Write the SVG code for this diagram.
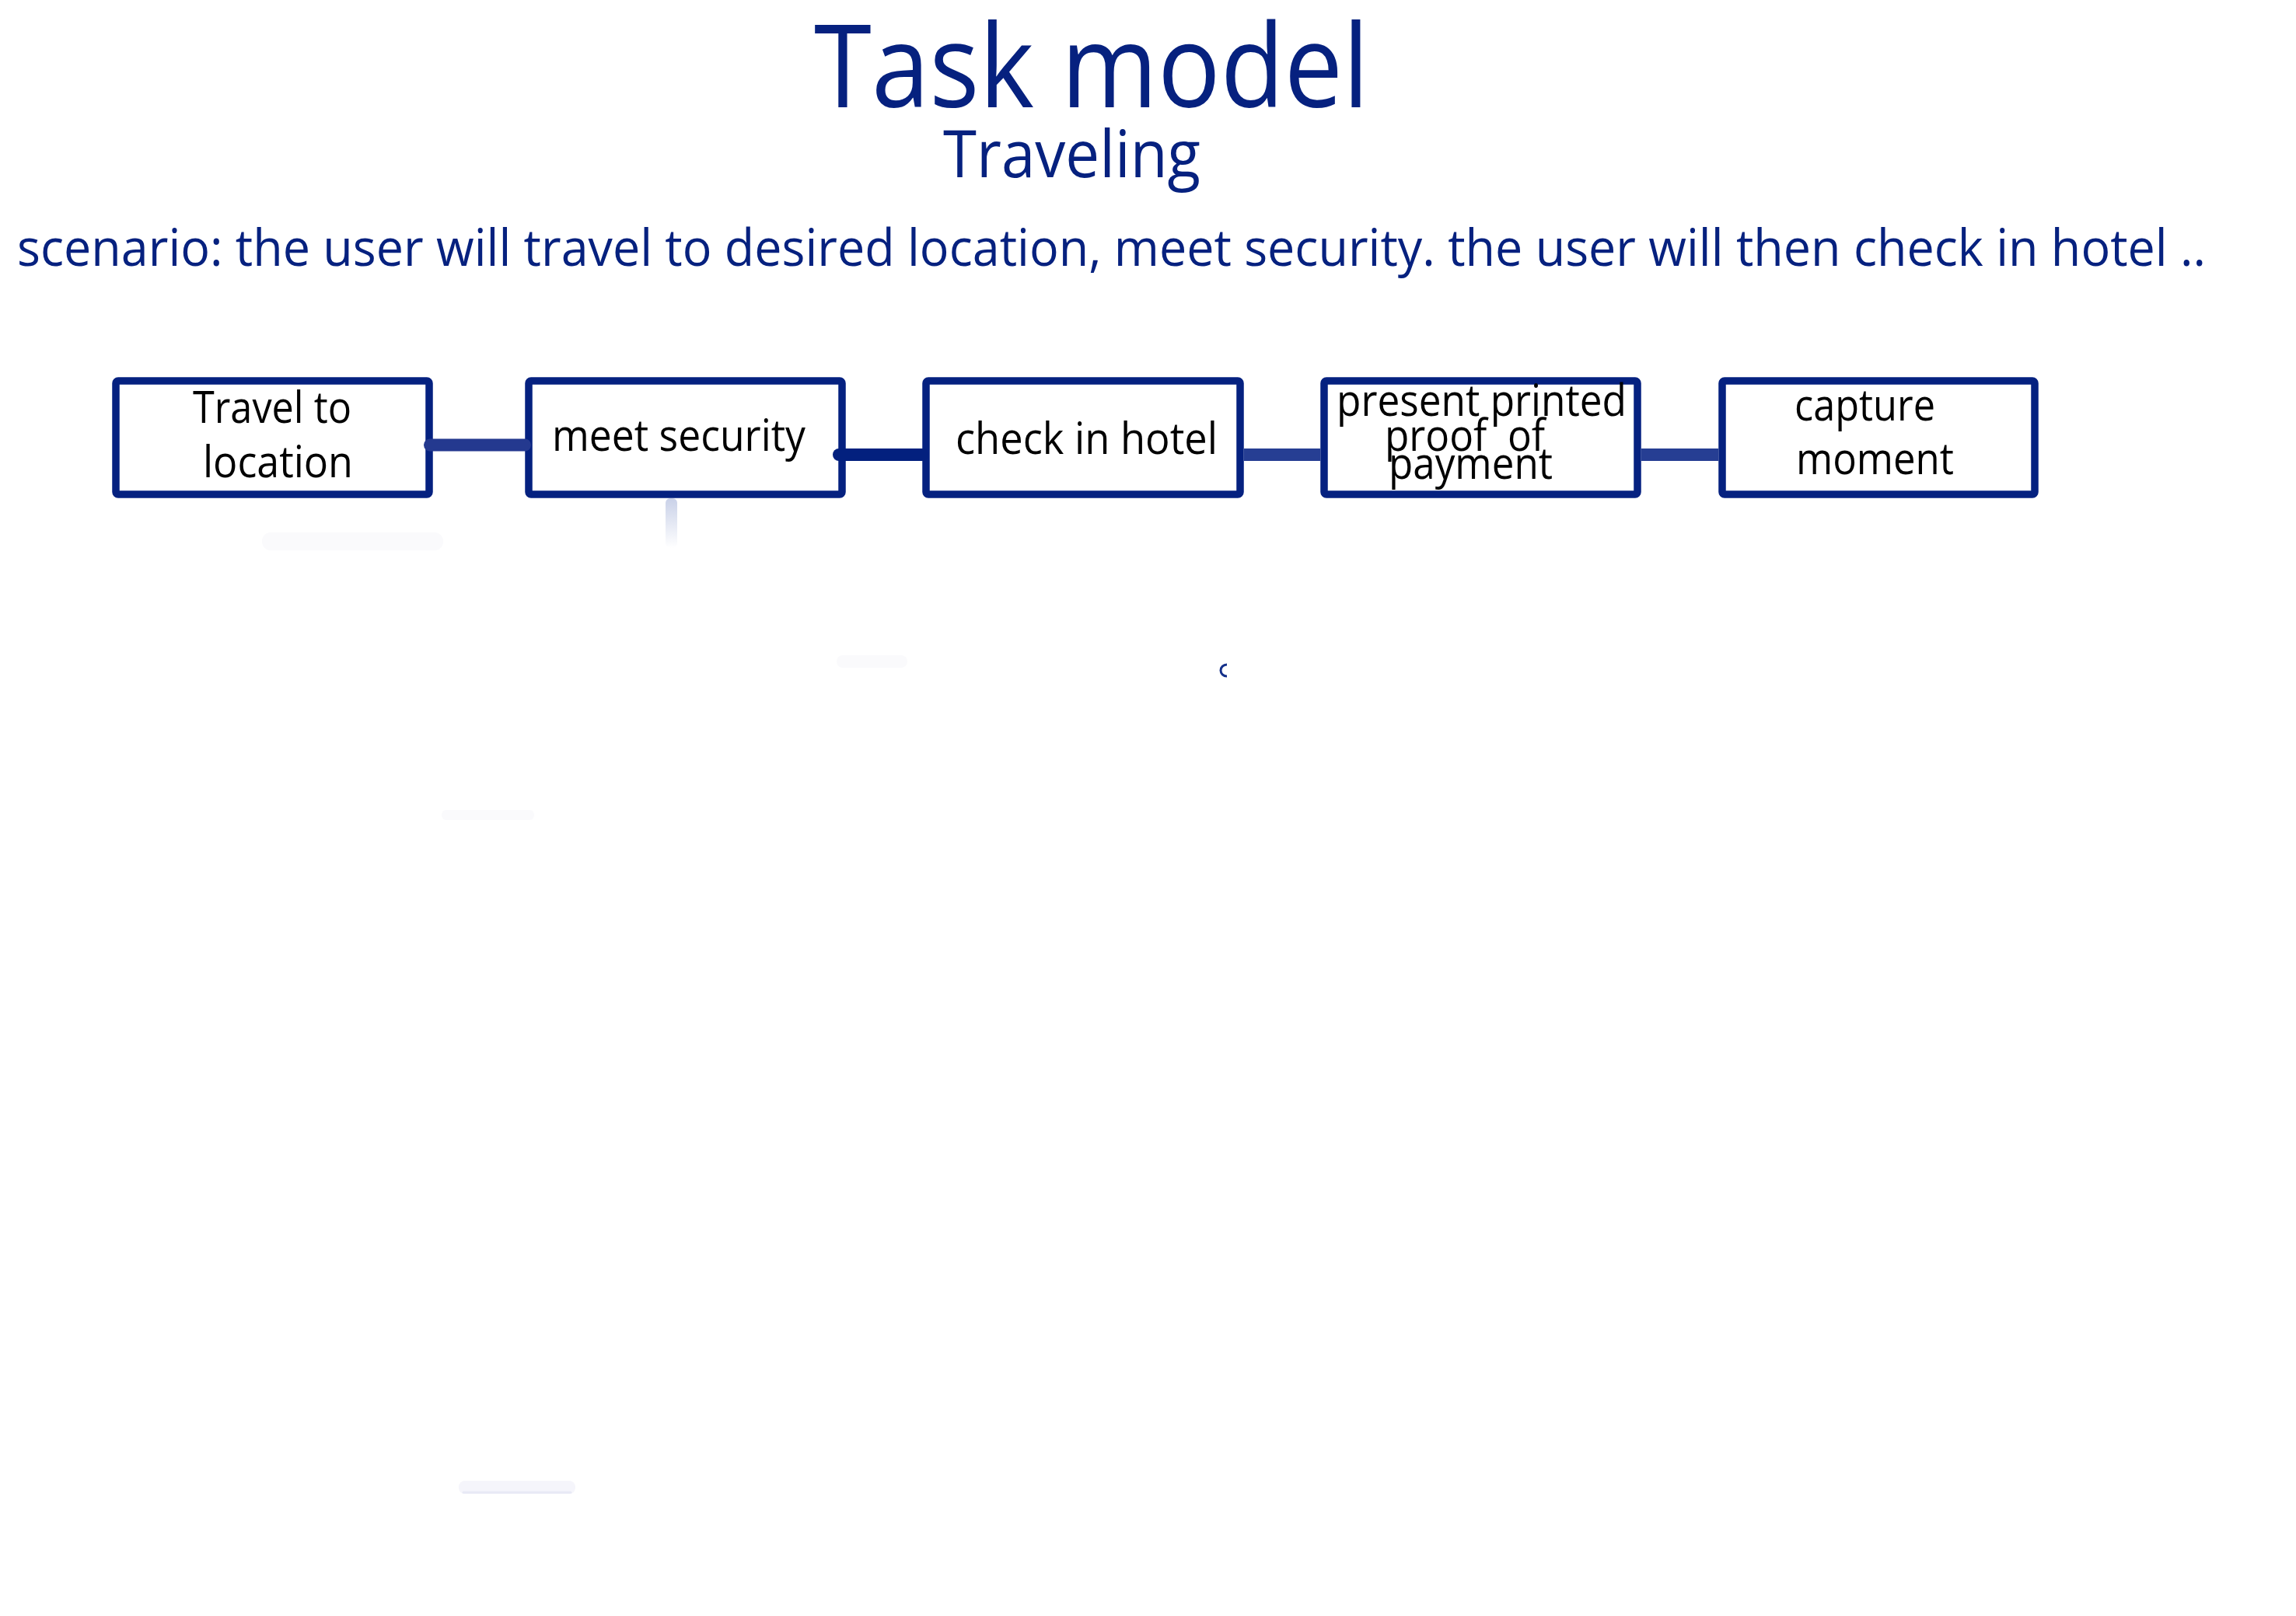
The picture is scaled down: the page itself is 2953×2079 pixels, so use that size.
<svg xmlns="http://www.w3.org/2000/svg" width="2953" height="2079" viewBox="0 0 2953 2079">
<style>
.head{font-family:"Open Sans","Liberation Sans",sans-serif;fill:#06217f}
.box{fill:#ffffff;stroke:#052180;stroke-width:9.5}
.lbl{font-family:"Open Sans","Liberation Sans",sans-serif;font-size:56px;fill:#000000}
.con{fill:none;stroke-width:16}
.blob{fill:#fafafc}
</style>
<defs>
<linearGradient id="fade" x1="0" y1="0" x2="0" y2="1">
<stop offset="0" stop-color="#c9d1e8"/>
<stop offset="1" stop-color="#ffffff"/>
</linearGradient>
</defs>
<rect x="0" y="0" width="2953" height="2079" fill="#ffffff"/>
<text class="head" x="1047" y="138" font-size="148" textLength="714" lengthAdjust="spacingAndGlyphs">Task model</text>
<text class="head" x="1213" y="228" font-size="84" textLength="331" lengthAdjust="spacingAndGlyphs">Traveling</text>
<text class="head" x="22" y="342" font-size="66" textLength="2815" lengthAdjust="spacingAndGlyphs">scenario: the user will travel to desired location, meet security. the user will then check in hotel ..</text>

<g id="faint">
<rect x="856" y="641" width="15" height="64" rx="6" fill="url(#fade)"/>
<rect class="blob" x="337" y="685" width="233" height="23" rx="11"/>
<rect class="blob" x="1076" y="843" width="91" height="16" rx="8"/>
<rect class="blob" x="568" y="1042" width="119" height="13" rx="6"/>
<rect x="590" y="1905" width="150" height="17" rx="8" fill="#f5f5fb"/>
<path d="M596,1920 H734" stroke="#e8e9f5" stroke-width="3" stroke-linecap="round"/>
<path d="M1578,855 A8,7.5 0 0 0 1578,870" fill="none" stroke="#14308a" stroke-width="3"/>
</g>

<g id="n1"><rect class="box" x="149" y="490" width="403" height="146" rx="3"/>
<text class="lbl" x="248" y="544" textLength="204" lengthAdjust="spacingAndGlyphs">Travel to</text>
<text class="lbl" x="261" y="614" textLength="193" lengthAdjust="spacingAndGlyphs">location</text></g>
<g id="n2"><rect class="box" x="680" y="490" width="403" height="146" rx="3"/>
<text class="lbl" x="710" y="580" textLength="326" lengthAdjust="spacingAndGlyphs">meet security</text></g>
<g id="n3"><rect class="box" x="1191" y="490" width="404" height="146" rx="3"/>
<text class="lbl" x="1229" y="584" textLength="337" lengthAdjust="spacingAndGlyphs">check in hotel</text></g>
<g id="n4"><rect class="box" x="1703" y="490" width="403" height="146" rx="3"/>
<text class="lbl" x="1719" y="535" textLength="373" lengthAdjust="spacingAndGlyphs">present printed</text>
<text class="lbl" x="1781" y="580" textLength="206" lengthAdjust="spacingAndGlyphs" xml:space="preserve">proof  of</text>
<text class="lbl" x="1786" y="616" textLength="211" lengthAdjust="spacingAndGlyphs">payment</text></g>
<g id="n5"><rect class="box" x="2215" y="490" width="402" height="146" rx="3"/>
<text class="lbl" x="2308" y="541" textLength="181" lengthAdjust="spacingAndGlyphs">capture</text>
<text class="lbl" x="2310" y="610" textLength="203" lengthAdjust="spacingAndGlyphs">moment</text></g>

<g id="connectors">
<path class="con" d="M553,572.5 H675" stroke="#24398f" stroke-width="15" stroke-linecap="round"/>
<path class="con" d="M1079,585 H1186" stroke="#03207e" stroke-linecap="round"/>
<path class="con" d="M1600,585 H1698" stroke="#263e93"/>
<path class="con" d="M2111,585 H2210" stroke="#263e93"/>
</g>
</svg>
